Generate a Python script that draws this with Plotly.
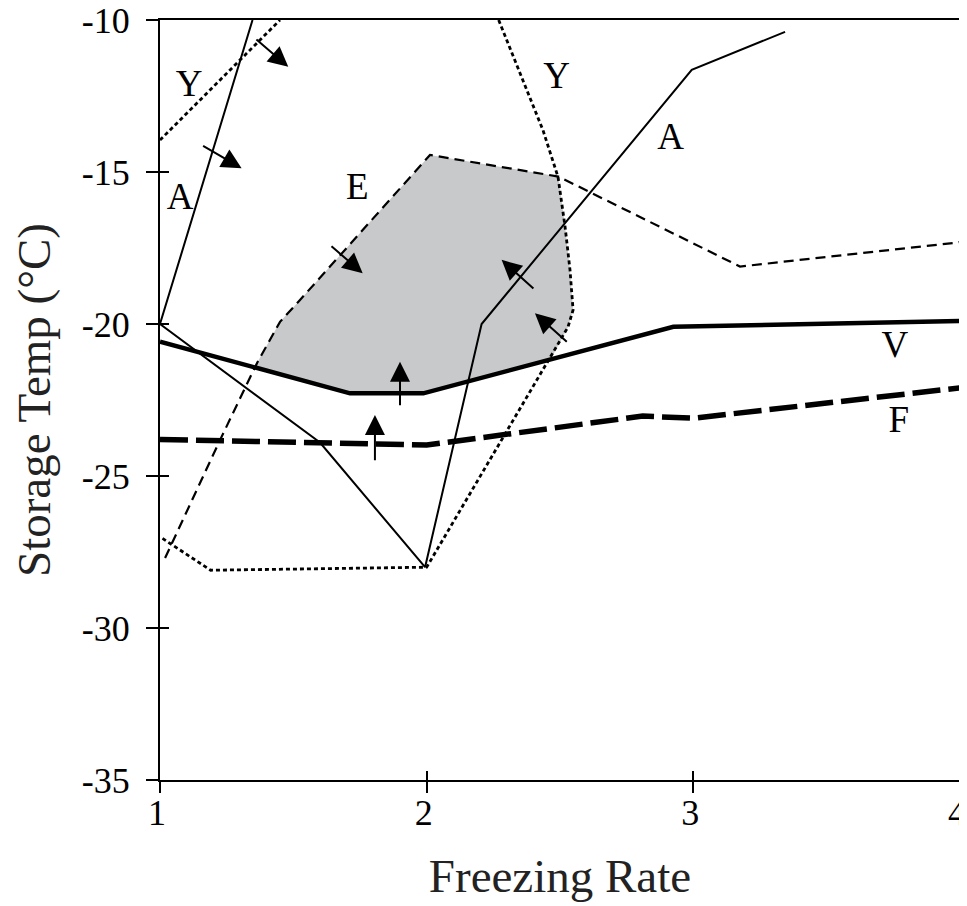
import plotly.graph_objects as go

# ---- data (Freezing Rate vs Storage Temp) ----
A_x = [1.347, 1.0, 1.6, 1.994, 2.206, 2.994, 3.344]
A_y = [-10.0, -20.0, -23.9, -28.0, -20.0, -11.64, -10.39]

Y1_x = [1.0, 1.45]
Y1_y = [-13.95, -10.0]
Y2_x = [2.27, 2.436, 2.4925, 2.519, 2.5375, 2.549, 2.53, 2.0, 1.19, 1.0]
Y2_y = [-10.0, -13.62, -15.16, -16.8, -18.22, -19.54, -20.1, -28.0, -28.1, -27.0]

E_x = [1.019, 1.225, 1.364, 1.45, 1.525, 2.0125, 2.494, 3.175, 3.98, 4.0]
E_y = [-27.7, -23.82, -21.28, -19.93, -19.21, -14.44, -15.15, -18.11, -17.33, -17.3]

V_x = [1.0, 1.7125, 1.9875, 2.925, 4.0]
V_y = [-20.58, -22.28, -22.28, -20.09, -19.9]

F_x = [1.0, 2.0, 2.81, 3.0, 4.0]
F_y = [-23.8, -23.98, -23.03, -23.1, -22.1]

region_x = [1.355, 1.45, 1.525, 2.0125, 2.494, 2.519, 2.5375, 2.549, 2.53, 2.465, 1.9875, 1.7125, 1.355]
region_y = [-21.42, -19.93, -19.21, -14.44, -15.15, -16.8, -18.22, -19.54, -20.1, -21.17, -22.28, -22.28, -21.42]

label_text = ["Y", "A", "E", "Y", "A", "V", "F"]
label_x = [1.109, 1.075, 1.74, 2.4875, 2.915, 3.756, 3.77]
label_y = [-12.2, -15.92, -15.57, -11.92, -13.95, -20.77, -23.24]

arrow_tail_x = [1.356, 1.156, 1.6375, 1.9, 1.806, 2.406, 2.531]
arrow_tail_y = [-10.6, -14.11, -17.4, -22.72, -24.53, -18.88, -20.63]
arrow_head_x = [1.481, 1.306, 1.76, 1.9, 1.806, 2.281, 2.406]
arrow_head_y = [-11.54, -14.88, -18.33, -21.24, -22.99, -17.89, -19.65]

x_ticks = [1, 2, 3, 4]
x_ticktext = ["1", "2", "3", "4"]
y_ticks = [-35, -30, -25, -20, -15, -10]
y_ticktext = ["-35", "-30", "-25", "-20", "-15", "-10"]

FONT = "Liberation Serif"
fig = go.Figure()

fig.add_trace(go.Scatter(x=region_x, y=region_y, fill="toself", fillcolor="rgb(200,201,202)",
                         mode="lines", line=dict(width=0), hoverinfo="skip"))
fig.add_trace(go.Scatter(x=Y1_x, y=Y1_y, mode="lines", line=dict(color="black", width=2.8, dash="4px,3px")))
fig.add_trace(go.Scatter(x=Y2_x, y=Y2_y, mode="lines", line=dict(color="black", width=2.8, dash="4px,3px")))
fig.add_trace(go.Scatter(x=E_x, y=E_y, mode="lines", line=dict(color="black", width=2.2, dash="10px,6px")))
fig.add_trace(go.Scatter(x=V_x, y=V_y, mode="lines", line=dict(color="black", width=4.5)))
fig.add_trace(go.Scatter(x=F_x, y=F_y, mode="lines", line=dict(color="black", width=5.5, dash="28px,8px")))
fig.add_trace(go.Scatter(x=A_x, y=A_y, mode="lines", line=dict(color="black", width=2),
                         xaxis="x3", yaxis="y"))
fig.add_trace(go.Scatter(x=label_x, y=label_y, text=label_text, mode="text", xaxis="x2", yaxis="y2",
                         textfont=dict(family=FONT, size=37, color="black"), textposition="middle center"))

for tx, ty, hx, hy in zip(arrow_tail_x, arrow_tail_y, arrow_head_x, arrow_head_y):
    fig.add_annotation(x=hx, y=hy, ax=tx, ay=ty, xref="x", yref="y", axref="x", ayref="y",
                       text="", showarrow=True, arrowhead=2, arrowsize=2, arrowwidth=2,
                       arrowcolor="black", standoff=0, startstandoff=0)

axis_common = dict(showgrid=False, zeroline=False, automargin=False)
fig.update_layout(
    width=959, height=898,
    margin=dict(l=152, r=7, t=12, b=126),
    paper_bgcolor="white", plot_bgcolor="white",
    showlegend=False,
    font=dict(family=FONT, color="black"),
    xaxis=dict(range=[1, 4], tickvals=x_ticks, ticktext=x_ticktext, ticks="",
               showline=True, linecolor="black", linewidth=2, mirror=True,
               tickfont=dict(family=FONT, size=36, color="black"), ticklabeloverflow="allow",
               ticklabelshift=-3,
               title=dict(text="Freezing Rate", font=dict(family=FONT, size=47, color="#222"), standoff=27),
               **axis_common),
    yaxis=dict(range=[-35, -10], tickvals=y_ticks, ticktext=y_ticktext, ticks="outside", ticklen=12,
               tickwidth=2, tickcolor="black", showline=True, linecolor="black", linewidth=2, mirror=True,
               tickfont=dict(family=FONT, size=36, color="black"), ticklabeloverflow="allow",
               ticklabelstandoff=9,
               title=dict(text="Storage Temp (°C)", font=dict(family=FONT, size=47, color="#222"), standoff=20),
               **axis_common),
    xaxis2=dict(range=[1, 4], overlaying="x", tickvals=x_ticks, ticks="inside", ticklen=9, tickwidth=2,
                tickcolor="black", showticklabels=False, showline=False, anchor="y2", **axis_common),
    yaxis2=dict(range=[-35, -10], overlaying="y", tickvals=y_ticks, ticks="inside", ticklen=9, tickwidth=2,
                tickcolor="black", showticklabels=False, showline=False, anchor="x2", **axis_common),
    xaxis3=dict(range=[1, 4], overlaying="x", tickvals=x_ticks, ticks="outside", ticklen=12, tickwidth=2,
                tickcolor="black", showticklabels=False, showline=False, anchor="y", **axis_common),
)

fig.write_html("out.html")
